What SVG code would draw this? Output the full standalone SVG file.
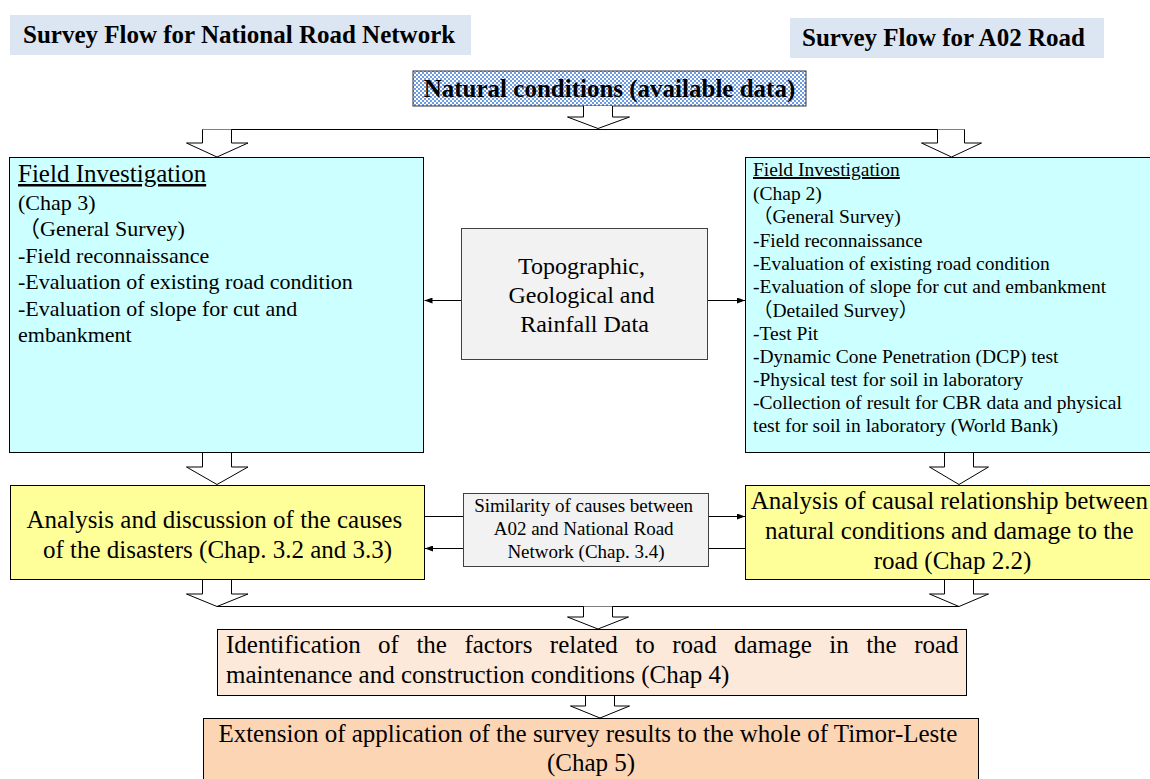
<svg xmlns="http://www.w3.org/2000/svg" width="1150" height="779" viewBox="0 0 1150 779">
<defs>
<pattern id="chk" width="4" height="4" patternUnits="userSpaceOnUse">
<rect width="4" height="4" fill="#6f9be0"/>
<rect width="2" height="2" fill="#ffffff"/>
<rect x="2" y="2" width="2" height="2" fill="#ffffff"/>
</pattern>
<marker id="ah" markerWidth="8" markerHeight="6" refX="8" refY="3" orient="auto" markerUnits="userSpaceOnUse">
<path d="M0,0 L8,3 L0,6 z" fill="#000"/>
</marker>
</defs>
<style>
text{font-family:"Liberation Serif","Noto Sans CJK JP",serif;fill:#000}
.ttl{font-weight:bold;font-size:25px}
.box{stroke:#000;stroke-width:1}
.gbox{fill:#f2f2f2;stroke:#404040;stroke-width:1}
.blk{fill:#fff;stroke:#000;stroke-width:1}
.ln{fill:none;stroke:#000;stroke-width:1}
.lnA{fill:none;stroke:#000;stroke-width:1;marker-end:url(#ah)}
.f25{font-size:25px}
.f22{font-size:22px}
.f19{font-size:19.5px}
.f24{font-size:24px}
.s19{font-size:19px}
.c{text-anchor:middle}
</style>
<rect width="1150" height="779" fill="#fff"/>

<g id="title-national">
<rect x="10" y="15" width="461" height="40" fill="#dce6f2"/>
<text class="ttl" x="23" y="43">Survey Flow for National Road Network</text>
</g>
<g id="title-a02">
<rect x="790" y="18" width="314" height="40" fill="#dce6f2"/>
<text class="ttl" x="802" y="46">Survey Flow for A02 Road</text>
</g>

<g id="natural">
<rect x="413" y="71" width="393" height="35" fill="url(#chk)" stroke="#333" stroke-width="1"/>
<text class="ttl" x="609.5" y="97" text-anchor="middle">Natural conditions (available data)</text>
</g>

<g id="field-left">
<rect class="box" x="9.5" y="157.5" width="414" height="295" fill="#ccffff"/>
<text x="18" y="182" class="f25" text-decoration="underline">Field Investigation</text>
<text class="f22" x="18">
<tspan x="18" y="209.5">(Chap 3)</tspan>
<tspan x="18" y="236">（General Survey)</tspan>
<tspan x="18" y="262.5">-Field reconnaissance</tspan>
<tspan x="18" y="289">-Evaluation of existing road condition</tspan>
<tspan x="18" y="315.5">-Evaluation of slope for cut and</tspan>
<tspan x="18" y="342">embankment</tspan>
</text>
</g>

<g id="field-right">
<rect class="box" x="745.5" y="157.5" width="420" height="295" fill="#ccffff"/>
<text x="753" y="176" class="f19" text-decoration="underline">Field Investigation</text>
<text class="f19">
<tspan x="753" y="199.5">(Chap 2)</tspan>
<tspan x="753" y="223">（General Survey)</tspan>
<tspan x="753" y="246.5">-Field reconnaissance</tspan>
<tspan x="753" y="269.5">-Evaluation of existing road condition</tspan>
<tspan x="753" y="293">-Evaluation of slope for cut and embankment</tspan>
<tspan x="753" y="316.5">（Detailed Survey）</tspan>
<tspan x="753" y="339.5">-Test Pit</tspan>
<tspan x="753" y="362.5">-Dynamic Cone Penetration (DCP) test</tspan>
<tspan x="753" y="385.5">-Physical test for soil in laboratory</tspan>
<tspan x="753" y="408.5">-Collection of result for CBR data and physical</tspan>
<tspan x="753" y="431.5">test for soil in laboratory (World Bank)</tspan>
</text>
</g>

<g id="topo">
<rect class="gbox" x="461.5" y="228.5" width="246" height="131"/>
<text class="f24 c" x="584.5">
<tspan x="584.5" y="274">Topographic,</tspan>
<tspan x="584.5" y="303">Geological and</tspan>
<tspan x="584.5" y="332">Rainfall Data</tspan>
</text>
</g>

<g id="analysis-left">
<rect class="box" x="10.5" y="485.5" width="414" height="94" fill="#ffff99"/>
<text class="f25 c" x="217.5">
<tspan x="217.5" y="528">Analysis and discussion of the causes</tspan>
<tspan x="217.5" y="558">of the disasters (Chap. 3.2 and 3.3)</tspan>
</text>
</g>

<g id="similarity">
<rect class="gbox" x="463.5" y="493.5" width="245" height="73"/>
<text class="s19 c" x="586">
<tspan x="586" y="512">Similarity of causes between</tspan>
<tspan x="586" y="535">A02 and National Road</tspan>
<tspan x="586" y="558">Network (Chap. 3.4)</tspan>
</text>
</g>

<g id="analysis-right">
<rect class="box" x="745.5" y="485.5" width="415" height="94" fill="#ffff99"/>
<text class="f25 c" x="952.5">
<tspan x="952.5" y="509">Analysis of causal relationship between</tspan>
<tspan x="952.5" y="539">natural conditions and damage to the</tspan>
<tspan x="952.5" y="569">road (Chap 2.2)</tspan>
</text>
</g>

<g id="identification">
<rect class="box" x="217.5" y="629.5" width="749" height="66" fill="#fde9d9"/>
<text class="f25" x="226" y="653" word-spacing="11.2">Identification of the factors related to road damage in the road</text>
<text class="f25" x="226" y="683">maintenance and construction conditions (Chap 4)</text>
</g>

<g id="extension">
<rect class="box" x="203.5" y="718.5" width="775" height="70" fill="#fcd5b4"/>
<text class="f25 c" x="591">
<tspan x="591" y="742">Extension of application of the survey results to the whole of Timor-Leste</tspan>
<tspan x="591" y="771">(Chap 5)</tspan>
</text>
</g>

<g id="connectors">
<!-- block arrows -->
<path class="blk" d="M583.5,106 V117 H567.5 L598,128.5 L629.5,117 H612.5 V106"/>
<path class="ln" d="M202.5,129.5 H964.5"/>
<path class="blk" d="M202.5,129.5 V143 H186.5 L217,157 L248,143 H231.5 V129.5"/>
<path class="blk" d="M937.5,129.5 V143 H921.5 L951.5,157 L981.5,143 H964.5 V129.5"/>
<path class="blk" d="M202.5,453 V467 H186.5 L217,484.5 L248,467 H231.5 V453"/>
<path class="blk" d="M944.5,453 V467 H929.5 L959,484.5 L988.5,467 H973.5 V453"/>
<path class="blk" d="M202.5,580 V594 H186.5 L217,606.5 L248,594 H231.5 V580"/>
<path class="blk" d="M944.5,580 V594 H929.5 L959,606.5 L988.5,594 H973.5 V580"/>
<path class="ln" d="M217,606.5 H959"/>
<path class="blk" d="M583.5,606.5 V617 H567.5 L598,629 L628.5,617 H612.5 V606.5"/>
<path class="blk" d="M585.5,696 V706 H570.5 L600,718 L629.5,706 H614.5 V696"/>
<!-- line connectors -->
<path class="lnA" d="M461,300.5 H424.5"/>
<path class="lnA" d="M708,300.5 H745"/>
<path class="ln" d="M425,516.5 H463"/>
<path class="lnA" d="M709,516.5 H745"/>
<path class="ln" d="M745,548.5 H709"/>
<path class="lnA" d="M463,548.5 H425"/>
</g>
</svg>
